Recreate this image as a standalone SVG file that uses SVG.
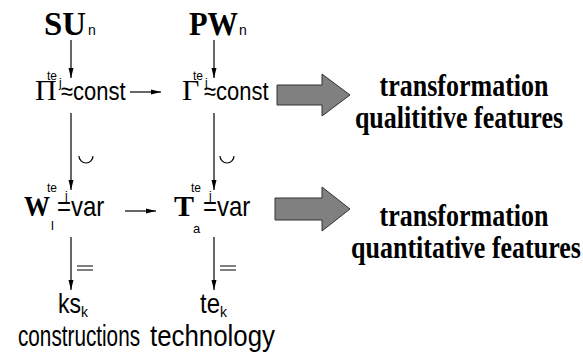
<svg xmlns="http://www.w3.org/2000/svg" width="583" height="356" viewBox="0 0 583 356">
<defs>
<style>
.bs{font-family:"Liberation Serif","Times New Roman",serif;font-weight:bold;fill:#000}
.sr{font-family:"Liberation Serif","Times New Roman",serif;fill:#000}
.ns{font-family:"Liberation Sans Narrow","Liberation Sans",Arial,sans-serif;fill:#000}
.ln{stroke:#000;stroke-width:1.2;fill:none}
.big{fill:#808080;stroke:#333;stroke-width:1}
</style>
<marker id="ah" viewBox="0 0 10 10" refX="10" refY="5" markerWidth="10" markerHeight="10" markerUnits="userSpaceOnUse" orient="auto">
<path d="M0,2.5 L10,5 L0,7.5 z" fill="#000"/>
</marker>
</defs>
<rect width="583" height="356" fill="#fff"/>

<g id="connectors">
<line class="ln" x1="71" y1="40" x2="71" y2="78" marker-end="url(#ah)"/>
<line class="ln" x1="214" y1="40" x2="214" y2="78" marker-end="url(#ah)"/>
<line class="ln" x1="130" y1="92" x2="161" y2="92" marker-end="url(#ah)"/>
<line class="ln" x1="71" y1="113" x2="71" y2="190" marker-end="url(#ah)"/>
<line class="ln" x1="214" y1="113" x2="214" y2="190" marker-end="url(#ah)"/>
<path class="ln" d="M79,156 A7,7 0 0 0 93,156"/>
<path class="ln" d="M220,156 A7,7 0 0 0 234,156"/>
<line class="ln" x1="125" y1="211" x2="156" y2="211" marker-end="url(#ah)"/>
<line class="ln" x1="71" y1="237" x2="71" y2="290" marker-end="url(#ah)"/>
<line class="ln" x1="214" y1="237" x2="214" y2="290" marker-end="url(#ah)"/>
<path class="ln" d="M77,266 H93 M77,270 H93"/>
<path class="ln" d="M220,266 H236 M220,270 H236"/>
<polygon class="big" points="277,85 322,85 322,74 350,95 322,116 322,105 277,105"/>
<polygon class="big" points="275,198 322,198 322,187 350,209 322,231 322,220 275,220"/>
</g>

<g id="node-SU">
<text class="bs" x="44" y="35" font-size="34" textLength="42" lengthAdjust="spacingAndGlyphs">SU</text>
<text class="ns" x="88" y="35" font-size="14">n</text>
</g>

<g id="node-PW">
<text class="bs" x="189" y="35" font-size="34" textLength="49" lengthAdjust="spacingAndGlyphs">PW</text>
<text class="ns" x="239" y="35" font-size="14">n</text>
</g>

<g id="node-Pi">
<text class="sr" x="35" y="100" font-size="30">Π</text>
<text class="ns" x="47" y="80" font-size="12">te<tspan dx="2" dy="7">j</tspan></text>
<text class="ns" transform="translate(61,100) scale(1,1.15)" font-size="22">≈const</text>
</g>

<g id="node-Gamma">
<text class="sr" x="182" y="100" font-size="30">Γ</text>
<text class="ns" x="193" y="80" font-size="12">te<tspan dx="2" dy="7">j</tspan></text>
<text class="ns" transform="translate(204,100) scale(1,1.15)" font-size="22">≈const</text>
</g>

<g id="node-W">
<text class="bs" x="24" y="216" font-size="30" textLength="26" lengthAdjust="spacingAndGlyphs">W</text>
<text class="ns" x="47" y="192" font-size="12">te<tspan dx="8" dy="8">j</tspan></text>
<text class="ns" x="51" y="230" font-size="13">l</text>
<text class="ns" transform="translate(57,216) scale(1,1.15)" font-size="24">=var</text>
</g>

<g id="node-T">
<text class="bs" x="174" y="216" font-size="30">T</text>
<text class="ns" x="191" y="192" font-size="12">te<tspan dx="8" dy="8">j</tspan></text>
<text class="ns" x="193" y="233" font-size="13">a</text>
<text class="ns" transform="translate(203,216) scale(1,1.15)" font-size="24">=var</text>
</g>

<g id="node-ks">
<text class="ns" x="58" y="313" font-size="28" textLength="23" lengthAdjust="spacingAndGlyphs">ks</text>
<text class="ns" x="81" y="317" font-size="14">k</text>
<text class="ns" x="18" y="346" font-size="30" textLength="122" lengthAdjust="spacingAndGlyphs">constructions</text>
</g>

<g id="node-te">
<text class="ns" x="200" y="313" font-size="28" textLength="20" lengthAdjust="spacingAndGlyphs">te</text>
<text class="ns" x="220" y="317" font-size="14">k</text>
<text class="ns" x="150" y="346" font-size="30" textLength="125" lengthAdjust="spacingAndGlyphs">technology</text>
</g>

<g id="node-qual">
<text class="bs" transform="translate(464,96) scale(1,1.22)" font-size="26" text-anchor="middle">transformation</text>
<text class="bs" transform="translate(459,128) scale(1,1.22)" font-size="26" text-anchor="middle">qualititive features</text>
</g>

<g id="node-quant">
<text class="bs" transform="translate(464,226) scale(1,1.22)" font-size="26" text-anchor="middle">transformation</text>
<text class="bs" transform="translate(466,258) scale(1,1.22)" font-size="26" text-anchor="middle">quantitative features</text>
</g>
</svg>
